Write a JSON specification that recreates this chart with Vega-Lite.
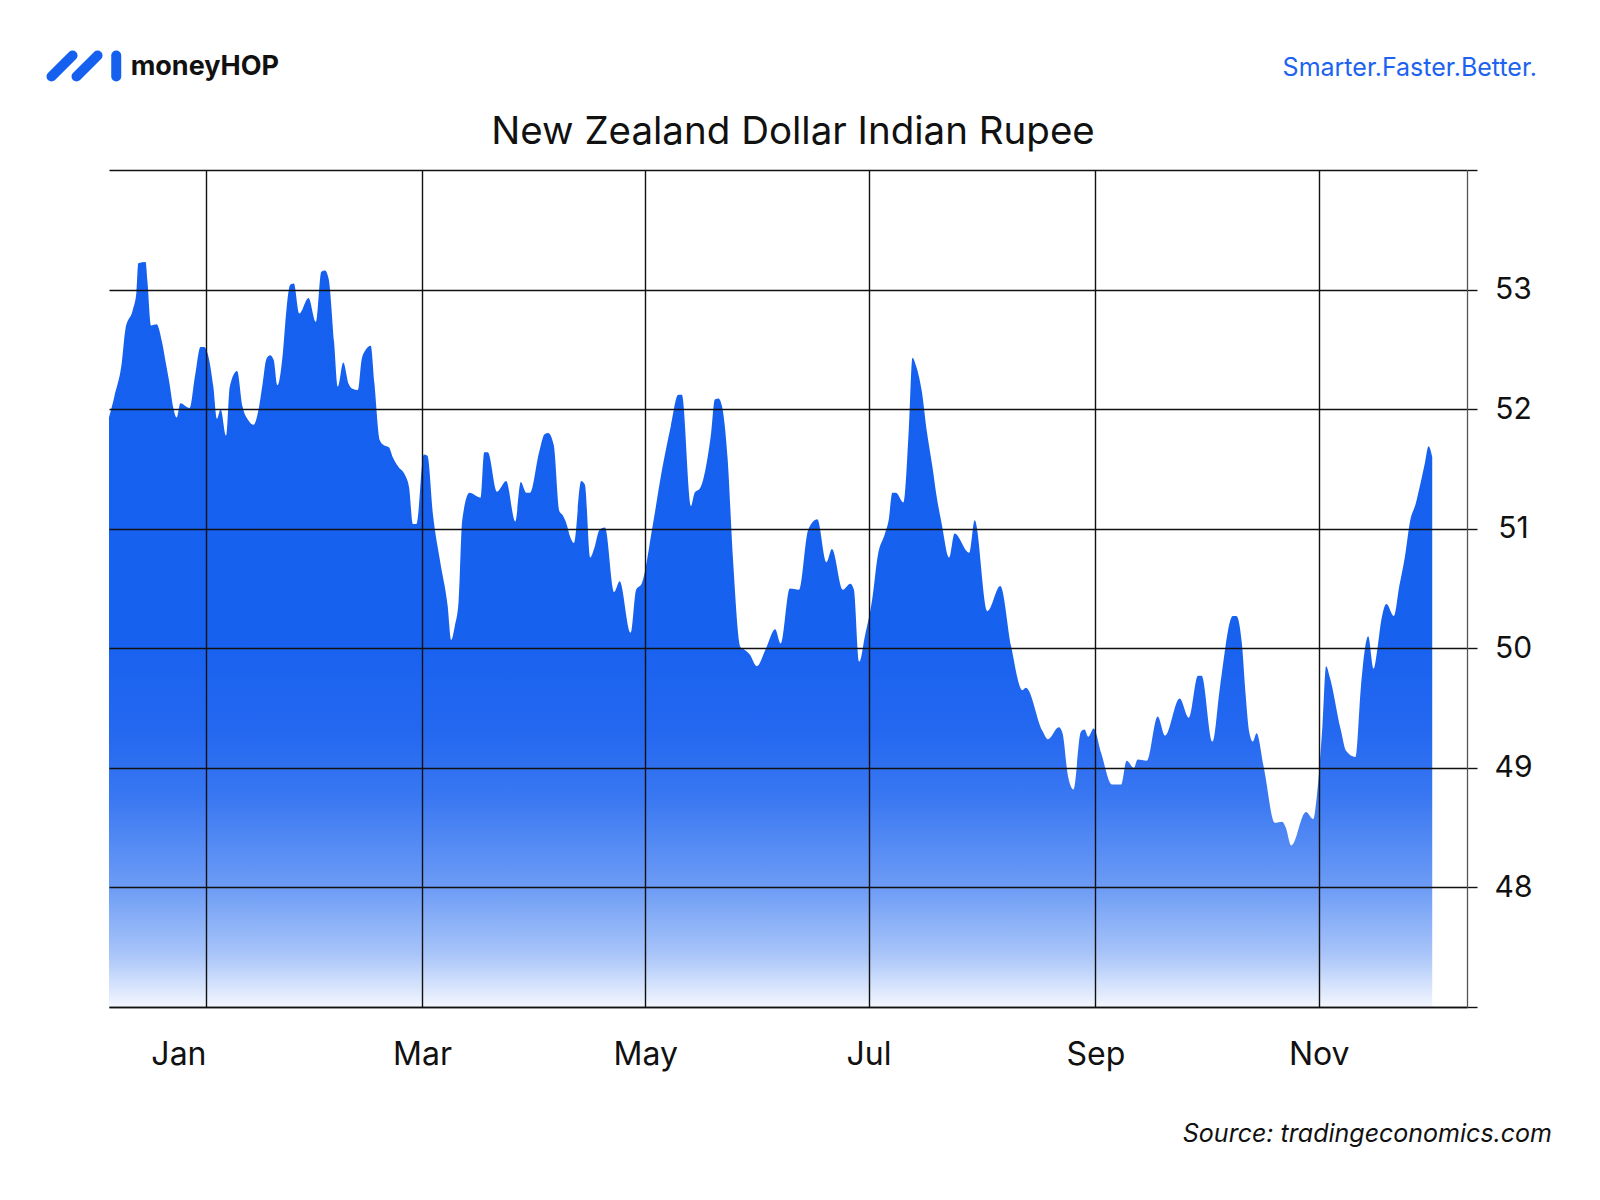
{
  "$schema": "https://vega.github.io/schema/vega-lite/v6.json",
  "width": 1358,
  "height": 837,
  "autosize": {"type": "none"},
  "padding": {"left": 109, "top": 170, "right": 133, "bottom": 193},
  "background": "white",
  "config": {"view": {"stroke": null}, "font": "Inter"},
  "layer": [
    {
      "data": {
        "values": [
          {"date": "2022-12-05T12:00", "rate": 51.93},
          {"date": "2022-12-07T00:00", "rate": 52.11},
          {"date": "2022-12-09T00:00", "rate": 52.39},
          {"date": "2022-12-10T00:00", "rate": 52.67},
          {"date": "2022-12-12T00:00", "rate": 52.83},
          {"date": "2022-12-13T00:00", "rate": 52.98},
          {"date": "2022-12-13T12:00", "rate": 53.22},
          {"date": "2022-12-15T12:00", "rate": 53.23},
          {"date": "2022-12-16T00:00", "rate": 53.07},
          {"date": "2022-12-17T00:00", "rate": 52.70},
          {"date": "2022-12-18T12:00", "rate": 52.71},
          {"date": "2022-12-20T00:00", "rate": 52.56},
          {"date": "2022-12-21T00:00", "rate": 52.39},
          {"date": "2022-12-22T00:00", "rate": 52.22},
          {"date": "2022-12-23T00:00", "rate": 52.02},
          {"date": "2022-12-24T00:00", "rate": 51.93},
          {"date": "2022-12-25T00:00", "rate": 52.05},
          {"date": "2022-12-27T12:00", "rate": 52.01},
          {"date": "2022-12-29T00:00", "rate": 52.28},
          {"date": "2022-12-30T12:00", "rate": 52.52},
          {"date": "2022-12-31T12:00", "rate": 52.52},
          {"date": "2023-01-01T12:00", "rate": 52.46},
          {"date": "2023-01-03T00:00", "rate": 52.19},
          {"date": "2023-01-04T00:00", "rate": 51.92},
          {"date": "2023-01-05T00:00", "rate": 52.00},
          {"date": "2023-01-06T12:00", "rate": 51.78},
          {"date": "2023-01-07T12:00", "rate": 52.19},
          {"date": "2023-01-09T12:00", "rate": 52.32},
          {"date": "2023-01-11T00:00", "rate": 52.02},
          {"date": "2023-01-12T12:00", "rate": 51.91},
          {"date": "2023-01-14T00:00", "rate": 51.87},
          {"date": "2023-01-15T12:00", "rate": 52.02},
          {"date": "2023-01-16T12:00", "rate": 52.22},
          {"date": "2023-01-17T12:00", "rate": 52.42},
          {"date": "2023-01-18T12:00", "rate": 52.45},
          {"date": "2023-01-19T12:00", "rate": 52.41},
          {"date": "2023-01-20T12:00", "rate": 52.20},
          {"date": "2023-01-22T00:00", "rate": 52.47},
          {"date": "2023-01-23T00:00", "rate": 52.84},
          {"date": "2023-01-24T00:00", "rate": 53.04},
          {"date": "2023-01-25T00:00", "rate": 53.05},
          {"date": "2023-01-26T12:00", "rate": 52.80},
          {"date": "2023-01-29T00:00", "rate": 52.93},
          {"date": "2023-01-31T00:00", "rate": 52.73},
          {"date": "2023-02-01T12:00", "rate": 53.15},
          {"date": "2023-02-02T12:00", "rate": 53.16},
          {"date": "2023-02-03T12:00", "rate": 53.09},
          {"date": "2023-02-05T00:00", "rate": 52.56},
          {"date": "2023-02-06T00:00", "rate": 52.19},
          {"date": "2023-02-07T12:00", "rate": 52.39},
          {"date": "2023-02-09T00:00", "rate": 52.21},
          {"date": "2023-02-10T00:00", "rate": 52.17},
          {"date": "2023-02-11T12:00", "rate": 52.16},
          {"date": "2023-02-12T12:00", "rate": 52.41},
          {"date": "2023-02-13T12:00", "rate": 52.49},
          {"date": "2023-02-15T00:00", "rate": 52.53},
          {"date": "2023-02-16T00:00", "rate": 52.22},
          {"date": "2023-02-17T12:00", "rate": 51.74},
          {"date": "2023-02-18T12:00", "rate": 51.70},
          {"date": "2023-02-20T00:00", "rate": 51.68},
          {"date": "2023-02-21T00:00", "rate": 51.60},
          {"date": "2023-02-22T12:00", "rate": 51.52},
          {"date": "2023-02-24T12:00", "rate": 51.44},
          {"date": "2023-02-25T12:00", "rate": 51.34},
          {"date": "2023-02-26T12:00", "rate": 51.04},
          {"date": "2023-02-27T12:00", "rate": 51.04},
          {"date": "2023-03-01T12:00", "rate": 51.62},
          {"date": "2023-03-02T12:00", "rate": 51.61},
          {"date": "2023-03-04T00:00", "rate": 51.12},
          {"date": "2023-03-06T00:00", "rate": 50.72},
          {"date": "2023-03-08T00:00", "rate": 50.36},
          {"date": "2023-03-09T00:00", "rate": 50.07},
          {"date": "2023-03-10T00:00", "rate": 50.19},
          {"date": "2023-03-11T00:00", "rate": 50.39},
          {"date": "2023-03-12T00:00", "rate": 51.07},
          {"date": "2023-03-14T00:00", "rate": 51.30},
          {"date": "2023-03-17T00:00", "rate": 51.26},
          {"date": "2023-03-18T00:00", "rate": 51.64},
          {"date": "2023-03-19T00:00", "rate": 51.64},
          {"date": "2023-03-21T12:00", "rate": 51.31},
          {"date": "2023-03-24T00:00", "rate": 51.40},
          {"date": "2023-03-26T12:00", "rate": 51.06},
          {"date": "2023-03-28T00:00", "rate": 51.39},
          {"date": "2023-03-29T12:00", "rate": 51.30},
          {"date": "2023-03-30T12:00", "rate": 51.30},
          {"date": "2023-04-02T00:00", "rate": 51.64},
          {"date": "2023-04-03T12:00", "rate": 51.79},
          {"date": "2023-04-04T12:00", "rate": 51.80},
          {"date": "2023-04-06T00:00", "rate": 51.70},
          {"date": "2023-04-07T12:00", "rate": 51.15},
          {"date": "2023-04-08T12:00", "rate": 51.11},
          {"date": "2023-04-09T12:00", "rate": 51.04},
          {"date": "2023-04-10T12:00", "rate": 50.93},
          {"date": "2023-04-11T12:00", "rate": 50.88},
          {"date": "2023-04-13T12:00", "rate": 51.40},
          {"date": "2023-04-14T12:00", "rate": 51.37},
          {"date": "2023-04-16T00:00", "rate": 50.76},
          {"date": "2023-04-17T00:00", "rate": 50.83},
          {"date": "2023-04-18T12:00", "rate": 50.99},
          {"date": "2023-04-20T00:00", "rate": 51.01},
          {"date": "2023-04-22T12:00", "rate": 50.47},
          {"date": "2023-04-24T00:00", "rate": 50.56},
          {"date": "2023-04-27T00:00", "rate": 50.13},
          {"date": "2023-04-28T12:00", "rate": 50.49},
          {"date": "2023-04-30T00:00", "rate": 50.54},
          {"date": "2023-05-03T00:00", "rate": 51.02},
          {"date": "2023-05-05T12:00", "rate": 51.48},
          {"date": "2023-05-08T00:00", "rate": 51.86},
          {"date": "2023-05-10T00:00", "rate": 52.12},
          {"date": "2023-05-11T00:00", "rate": 52.12},
          {"date": "2023-05-13T12:00", "rate": 51.19},
          {"date": "2023-05-14T12:00", "rate": 51.30},
          {"date": "2023-05-16T00:00", "rate": 51.34},
          {"date": "2023-05-18T00:00", "rate": 51.59},
          {"date": "2023-05-19T00:00", "rate": 51.80},
          {"date": "2023-05-20T00:00", "rate": 52.08},
          {"date": "2023-05-21T00:00", "rate": 52.09},
          {"date": "2023-05-22T00:00", "rate": 52.02},
          {"date": "2023-05-23T12:00", "rate": 51.59},
          {"date": "2023-05-25T00:00", "rate": 50.73},
          {"date": "2023-05-27T00:00", "rate": 50.01},
          {"date": "2023-05-28T00:00", "rate": 49.99},
          {"date": "2023-05-29T12:00", "rate": 49.95},
          {"date": "2023-05-31T12:00", "rate": 49.85},
          {"date": "2023-06-03T00:00", "rate": 50.00},
          {"date": "2023-06-05T12:00", "rate": 50.16},
          {"date": "2023-06-07T00:00", "rate": 50.04},
          {"date": "2023-06-09T12:00", "rate": 50.50},
          {"date": "2023-06-12T00:00", "rate": 50.49},
          {"date": "2023-06-14T12:00", "rate": 50.99},
          {"date": "2023-06-17T00:00", "rate": 51.08},
          {"date": "2023-06-19T12:00", "rate": 50.72},
          {"date": "2023-06-21T00:00", "rate": 50.83},
          {"date": "2023-06-24T00:00", "rate": 50.49},
          {"date": "2023-06-26T00:00", "rate": 50.54},
          {"date": "2023-06-27T00:00", "rate": 50.49},
          {"date": "2023-06-28T12:00", "rate": 49.89},
          {"date": "2023-06-30T00:00", "rate": 50.10},
          {"date": "2023-07-02T00:00", "rate": 50.41},
          {"date": "2023-07-03T12:00", "rate": 50.77},
          {"date": "2023-07-05T12:00", "rate": 50.96},
          {"date": "2023-07-06T12:00", "rate": 51.07},
          {"date": "2023-07-07T12:00", "rate": 51.30},
          {"date": "2023-07-08T12:00", "rate": 51.30},
          {"date": "2023-07-10T12:00", "rate": 51.22},
          {"date": "2023-07-12T00:00", "rate": 51.83},
          {"date": "2023-07-13T00:00", "rate": 52.43},
          {"date": "2023-07-14T00:00", "rate": 52.36},
          {"date": "2023-07-15T12:00", "rate": 52.16},
          {"date": "2023-07-17T00:00", "rate": 51.80},
          {"date": "2023-07-18T12:00", "rate": 51.51},
          {"date": "2023-07-19T12:00", "rate": 51.29},
          {"date": "2023-07-21T00:00", "rate": 51.04},
          {"date": "2023-07-23T00:00", "rate": 50.76},
          {"date": "2023-07-24T12:00", "rate": 50.96},
          {"date": "2023-07-28T12:00", "rate": 50.80},
          {"date": "2023-07-30T00:00", "rate": 51.07},
          {"date": "2023-08-02T12:00", "rate": 50.31},
          {"date": "2023-08-06T00:00", "rate": 50.52},
          {"date": "2023-08-09T00:00", "rate": 50.01},
          {"date": "2023-08-12T00:00", "rate": 49.65},
          {"date": "2023-08-13T00:00", "rate": 49.67},
          {"date": "2023-08-17T12:00", "rate": 49.31},
          {"date": "2023-08-19T00:00", "rate": 49.24},
          {"date": "2023-08-22T00:00", "rate": 49.34},
          {"date": "2023-08-23T00:00", "rate": 49.29},
          {"date": "2023-08-24T12:00", "rate": 48.93},
          {"date": "2023-08-26T00:00", "rate": 48.82},
          {"date": "2023-08-28T00:00", "rate": 49.30},
          {"date": "2023-08-29T00:00", "rate": 49.32},
          {"date": "2023-08-30T00:00", "rate": 49.26},
          {"date": "2023-08-31T12:00", "rate": 49.33},
          {"date": "2023-09-02T12:00", "rate": 49.13},
          {"date": "2023-09-05T12:00", "rate": 48.86},
          {"date": "2023-09-08T00:00", "rate": 48.86},
          {"date": "2023-09-09T12:00", "rate": 49.06},
          {"date": "2023-09-11T12:00", "rate": 49.00},
          {"date": "2023-09-12T12:00", "rate": 49.07},
          {"date": "2023-09-15T00:00", "rate": 49.06},
          {"date": "2023-09-18T00:00", "rate": 49.43},
          {"date": "2023-09-20T00:00", "rate": 49.27},
          {"date": "2023-09-24T00:00", "rate": 49.58},
          {"date": "2023-09-26T12:00", "rate": 49.42},
          {"date": "2023-09-29T00:00", "rate": 49.77},
          {"date": "2023-09-30T00:00", "rate": 49.77},
          {"date": "2023-10-03T00:00", "rate": 49.22},
          {"date": "2023-10-05T00:00", "rate": 49.67},
          {"date": "2023-10-08T12:00", "rate": 50.27},
          {"date": "2023-10-09T12:00", "rate": 50.27},
          {"date": "2023-10-11T00:00", "rate": 50.04},
          {"date": "2023-10-12T00:00", "rate": 49.62},
          {"date": "2023-10-13T00:00", "rate": 49.30},
          {"date": "2023-10-14T00:00", "rate": 49.22},
          {"date": "2023-10-15T00:00", "rate": 49.29},
          {"date": "2023-10-17T00:00", "rate": 49.00},
          {"date": "2023-10-20T00:00", "rate": 48.54},
          {"date": "2023-10-22T00:00", "rate": 48.55},
          {"date": "2023-10-23T00:00", "rate": 48.50},
          {"date": "2023-10-24T12:00", "rate": 48.35},
          {"date": "2023-10-28T12:00", "rate": 48.63},
          {"date": "2023-10-30T12:00", "rate": 48.57},
          {"date": "2023-10-31T12:00", "rate": 48.77},
          {"date": "2023-11-02T00:00", "rate": 49.35},
          {"date": "2023-11-03T00:00", "rate": 49.85},
          {"date": "2023-11-04T00:00", "rate": 49.76},
          {"date": "2023-11-07T00:00", "rate": 49.32},
          {"date": "2023-11-08T12:00", "rate": 49.14},
          {"date": "2023-11-11T00:00", "rate": 49.09},
          {"date": "2023-11-12T12:00", "rate": 49.67},
          {"date": "2023-11-13T12:00", "rate": 49.97},
          {"date": "2023-11-14T12:00", "rate": 50.10},
          {"date": "2023-11-16T00:00", "rate": 49.83},
          {"date": "2023-11-17T00:00", "rate": 49.99},
          {"date": "2023-11-18T00:00", "rate": 50.22},
          {"date": "2023-11-19T12:00", "rate": 50.37},
          {"date": "2023-11-21T12:00", "rate": 50.27},
          {"date": "2023-11-23T00:00", "rate": 50.52},
          {"date": "2023-11-24T12:00", "rate": 50.76},
          {"date": "2023-11-26T00:00", "rate": 51.07},
          {"date": "2023-11-27T12:00", "rate": 51.21},
          {"date": "2023-11-28T12:00", "rate": 51.34},
          {"date": "2023-11-30T00:00", "rate": 51.55},
          {"date": "2023-12-01T00:00", "rate": 51.69},
          {"date": "2023-12-02T00:00", "rate": 51.60}
        ]
      },
      "mark": {
        "type": "area",
        "interpolate": "monotone",
        "clip": true,
        "fill": {
          "gradient": "linear",
          "x1": 0, "y1": 0, "x2": 0, "y2": 1,
          "stops": [
            {"offset": 0, "color": "#1560EF"},
            {"offset": 0.5, "color": "#1761EF"},
            {"offset": 0.63, "color": "#2468F0"},
            {"offset": 0.72, "color": "#3A78F2"},
            {"offset": 0.84, "color": "#6D9CF5"},
            {"offset": 0.93, "color": "#A9C5F9"},
            {"offset": 1, "color": "#F4F7FE"}
          ]
        }
      },
      "encoding": {
        "x": {
          "field": "date",
          "type": "temporal",
          "scale": {
            "domain": [
              {"year": 2022, "month": 12, "date": 5, "hours": 12},
              {"year": 2023, "month": 12, "date": 11, "hours": 12}
            ],
            "nice": false
          },
          "axis": {
            "title": null,
            "zindex": 1,
            "values": [
              {"year": 2023, "month": 1, "date": 1},
              {"year": 2023, "month": 3, "date": 1},
              {"year": 2023, "month": 5, "date": 1},
              {"year": 2023, "month": 7, "date": 1},
              {"year": 2023, "month": 9, "date": 1},
              {"year": 2023, "month": 11, "date": 1}
            ],
            "format": "%b",
            "grid": true,
            "gridColor": "#111111",
            "gridWidth": 1.4,
            "ticks": false,
            "tickSize": 0,
            "domain": true,
            "domainColor": "#111111",
            "domainWidth": 1.6,
            "labelFont": "Inter",
            "labelFontSize": 32,
            "labelColor": "#111111",
            "labelPadding": 57,
            "labelBaseline": "alphabetic",
            "labelAlign": {"condition": {"test": "month(datum.value) == 0", "value": "right"}, "value": "center"},
            "labelFlush": false,
            "labelOverlap": false
          }
        },
        "y": {
          "field": "rate",
          "type": "quantitative",
          "scale": {"domain": [47, 54], "zero": false, "nice": false},
          "axis": {
            "title": null,
            "orient": "right",
            "zindex": 1,
            "values": [47, 48, 49, 50, 51, 52, 53, 54],
            "format": "d",
            "labelExpr": "datum.value >= 48 && datum.value <= 53 ? datum.label : ''",
            "grid": true,
            "gridColor": "#111111",
            "gridWidth": 1.4,
            "ticks": true,
            "tickSize": 10,
            "tickColor": "#111111",
            "tickWidth": 1.4,
            "domain": true,
            "domainColor": "#555555",
            "domainWidth": 1.3,
            "labelFont": "Inter",
            "labelFontSize": 30,
            "labelColor": "#111111",
            "labelAlign": "center",
            "labelBaseline": "middle",
            "labelPadding": 36,
            "labelFlush": false,
            "labelOverlap": false
          }
        },
        "y2": {"datum": 47}
      }
    },
    {
      "data": {"values": [{}]},
      "mark": {"type": "rule", "strokeWidth": 10, "strokeCap": "round", "color": "#1560EF"},
      "encoding": {
        "x": {"datum": {"year": 2022, "month": 11, "date": 19, "hours": 19}, "type": "temporal", "title": null},
        "x2": {"datum": {"year": 2022, "month": 11, "date": 25, "hours": 13}},
        "y": {"datum": 54.782, "type": "quantitative", "title": null},
        "y2": {"datum": 54.958}
      }
    },
    {
      "data": {"values": [{}]},
      "mark": {"type": "rule", "strokeWidth": 10, "strokeCap": "round", "color": "#1560EF"},
      "encoding": {
        "x": {"datum": {"year": 2022, "month": 11, "date": 26, "hours": 15}, "type": "temporal", "title": null},
        "x2": {"datum": {"year": 2022, "month": 12, "date": 2, "hours": 9}},
        "y": {"datum": 54.782, "type": "quantitative", "title": null},
        "y2": {"datum": 54.958}
      }
    },
    {
      "data": {"values": [{}]},
      "mark": {"type": "rule", "strokeWidth": 10, "strokeCap": "round", "color": "#1560EF"},
      "encoding": {
        "x": {"datum": {"year": 2022, "month": 12, "date": 7, "hours": 11, "minutes": 30}, "type": "temporal", "title": null},
        "y": {"datum": 54.782, "type": "quantitative", "title": null},
        "y2": {"datum": 54.958}
      }
    },
    {
      "data": {"values": [{}]},
      "mark": {"type": "text", "align": "left", "baseline": "alphabetic", "font": "Inter", "fontSize": 27, "fontWeight": "bold", "color": "#111111", "text": "moneyHOP"},
      "encoding": {
        "x": {"datum": {"year": 2022, "month": 12, "date": 11, "hours": 10}, "type": "temporal", "title": null},
        "y": {"datum": 54.795, "type": "quantitative", "title": null}
      }
    },
    {
      "data": {"values": [{}]},
      "mark": {"type": "text", "align": "right", "baseline": "alphabetic", "font": "Inter", "fontSize": 25, "fontWeight": "normal", "color": "#1D63F0", "text": "Smarter.Faster.Better."},
      "encoding": {
        "x": {"datum": {"year": 2023, "month": 12, "date": 30, "hours": 14, "minutes": 40}, "type": "temporal", "title": null},
        "y": {"datum": 54.789, "type": "quantitative", "title": null}
      }
    },
    {
      "data": {"values": [{}]},
      "mark": {"type": "text", "align": "center", "baseline": "alphabetic", "font": "Inter", "fontSize": 38.5, "fontWeight": "normal", "color": "#111111", "text": "New Zealand Dollar Indian Rupee"},
      "encoding": {
        "x": {"datum": {"year": 2023, "month": 6, "date": 10, "hours": 9}, "type": "temporal", "title": null},
        "y": {"datum": 54.217, "type": "quantitative", "title": null}
      }
    },
    {
      "data": {"values": [{}]},
      "mark": {"type": "text", "align": "right", "baseline": "alphabetic", "font": "Inter", "fontSize": 25, "fontStyle": "italic", "color": "#111111", "text": "Source: tradingeconomics.com"},
      "encoding": {
        "x": {"datum": {"year": 2024, "month": 1, "date": 3, "hours": 17}, "type": "temporal", "title": null},
        "y": {"datum": 45.871, "type": "quantitative", "title": null}
      }
    }
  ]
}
